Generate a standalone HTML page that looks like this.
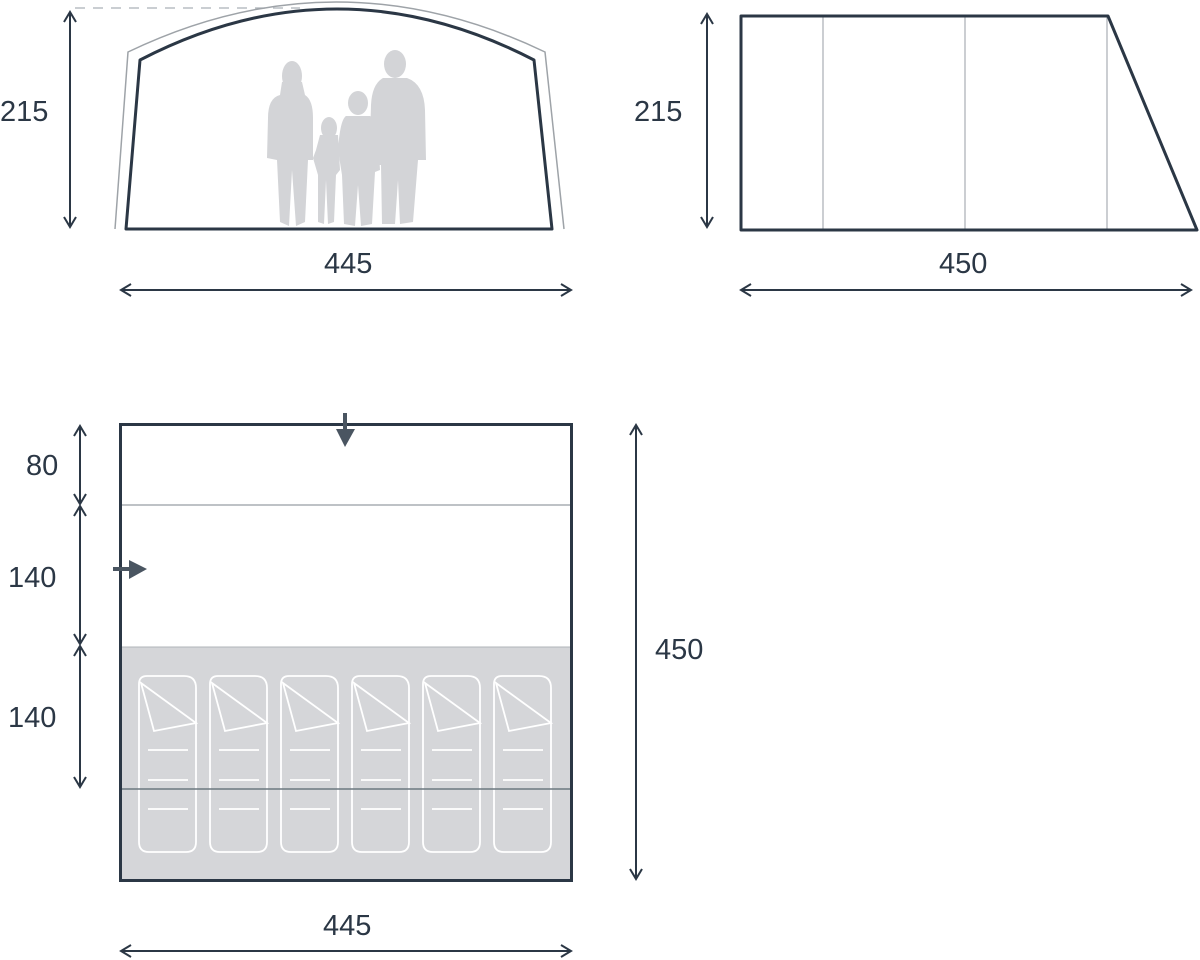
<!DOCTYPE html>
<html><head><meta charset="utf-8"><style>
html,body{margin:0;padding:0;background:#fff;}
svg{display:block}
text{font-family:"Liberation Sans",sans-serif;font-size:29px;fill:#2b3745;}
</style></head><body>
<svg width="1200" height="960" viewBox="0 0 1200 960" xmlns="http://www.w3.org/2000/svg">
<defs>
<marker id="a" markerWidth="14" markerHeight="14" refX="11" refY="7" orient="auto-start-reverse" markerUnits="userSpaceOnUse">
<path d="M1,1 L11,7 L1,13" fill="none" stroke="#2b3745" stroke-width="2"/>
</marker>
</defs>
<g stroke="#2b3745" stroke-width="2" fill="none">
<line x1="70" y1="12" x2="70" y2="227" marker-start="url(#a)" marker-end="url(#a)"/>
<line x1="121" y1="290" x2="571" y2="290" marker-start="url(#a)" marker-end="url(#a)"/>
<line x1="707" y1="14" x2="707" y2="227" marker-start="url(#a)" marker-end="url(#a)"/>
<line x1="741" y1="290" x2="1191" y2="290" marker-start="url(#a)" marker-end="url(#a)"/>
<line x1="80" y1="426" x2="80" y2="504" marker-start="url(#a)" marker-end="url(#a)"/>
<line x1="80" y1="506" x2="80" y2="644" marker-start="url(#a)" marker-end="url(#a)"/>
<line x1="80" y1="646" x2="80" y2="787" marker-start="url(#a)" marker-end="url(#a)"/>
<line x1="636" y1="425" x2="636" y2="879" marker-start="url(#a)" marker-end="url(#a)"/>
<line x1="121" y1="951" x2="571" y2="951" marker-start="url(#a)" marker-end="url(#a)"/>
</g>
<line x1="75" y1="8" x2="300" y2="8" stroke="#aab0b6" stroke-width="1.2" stroke-dasharray="10,8"/>
<path d="M115,229 L128,52 Q336,-48 545,52 L564,229" fill="none" stroke="#9ea3a8" stroke-width="1.5"/>
<g fill="#d3d4d7">
<ellipse cx="292" cy="76" rx="10" ry="15"/><path d="M282,82 L302,82 L305,95 Q313,100 313,118 L313,160 L308,160 L305,222 L296,226 L292,170 L289,226 L280,222 L277,160 L267,158 L268,118 Q268,98 280,95 Z"/>
<ellipse cx="329" cy="128" rx="8" ry="11"/><path d="M320,135 L338,135 L340,170 L336,175 L334,222 L328,224 L326,180 L324,224 L318,222 L318,175 L313,158 L316,150 Z"/>
<ellipse cx="358" cy="103" rx="10" ry="12"/><path d="M346,116 L370,116 Q378,120 378,135 L380,170 L375,172 L372,224 L361,226 L358,185 L355,226 L344,224 L342,175 L338,150 Q340,120 346,116 Z"/>
<ellipse cx="395" cy="64" rx="11" ry="14"/><path d="M383,78 L407,78 Q424,84 425,110 L426,160 L418,160 L413,222 L400,224 L398,180 L395,224 L382,224 L381,165 L374,165 L370,140 L371,105 Q372,84 383,78 Z"/>
</g>
<path d="M126,229 L140,60 Q337,-42 534,60 L552,229 Z" fill="none" stroke="#2b3745" stroke-width="3" stroke-linejoin="round"/>
<text x="0" y="121">215</text>
<text x="324" y="273">445</text>
<g stroke="#a9aeb3" stroke-width="1.2"><line x1="823" y1="16" x2="823" y2="230"/><line x1="965" y1="16" x2="965" y2="230"/><line x1="1107" y1="16" x2="1107" y2="230"/></g>
<path d="M741,16 L1108,16 L1197,230 L741,230 Z" fill="none" stroke="#2b3745" stroke-width="3" stroke-linejoin="round"/>
<text x="634" y="121">215</text>
<text x="939" y="273">450</text>
<rect x="121" y="647" width="451" height="233" fill="#d5d6d9"/>
<line x1="121" y1="505" x2="572" y2="505" stroke="#a9aeb3" stroke-width="1.5"/>
<line x1="121" y1="647" x2="572" y2="647" stroke="#b0b4b9" stroke-width="1"/>
<g fill="none" stroke="#fff" stroke-width="1.8">
<g id="bag"><path d="M147,676 L184,676 Q196,676 196,688 L196,842 Q196,852 186,852 L149,852 Q139,852 139,842 L139,684 Q139,676 147,676 Z"/><path d="M141,683 L196,723 L154,731 Z"/><line x1="148" y1="750" x2="188" y2="750"/><line x1="148" y1="780" x2="188" y2="780"/><line x1="148" y1="809" x2="188" y2="809"/></g>
<use href="#bag" x="71"/><use href="#bag" x="142"/><use href="#bag" x="213"/><use href="#bag" x="284"/><use href="#bag" x="355"/>
</g>
<line x1="121" y1="789" x2="572" y2="789" stroke="#6d7880" stroke-width="1.5"/>
<rect x="120.5" y="424.5" width="451" height="456" fill="none" stroke="#2b3745" stroke-width="3"/>
<g fill="#4a5561" stroke="#4a5561">
<line x1="345" y1="413" x2="345" y2="432" stroke-width="4"/><path d="M336,429 L355,429 L345,447 Z" stroke="none"/>
<line x1="113" y1="569" x2="132" y2="569" stroke-width="4"/><path d="M129,560 L147,569 L129,579 Z" stroke="none"/>
</g>
<text x="26" y="475">80</text>
<text x="8" y="587">140</text>
<text x="8" y="727">140</text>
<text x="655" y="659">450</text>
<text x="323" y="935">445</text>
</svg>
</body></html>
